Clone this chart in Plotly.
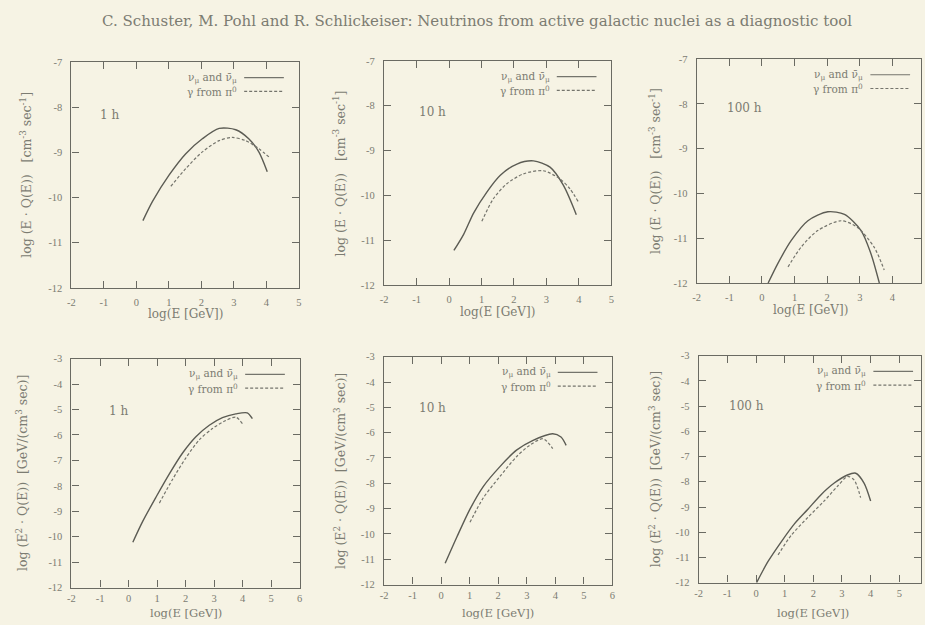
import plotly.graph_objects as go

# ---------------- data ----------------
# top row: log(E*Q(E)) ; bottom row: log(E^2*Q(E))
p1_nu_x = [0.20, 0.50, 1.01, 1.52, 2.03, 2.55, 3.06, 3.46, 3.77, 4.03]
p1_nu_y = [-10.51, -10.08, -9.50, -9.03, -8.70, -8.47, -8.50, -8.70, -8.99, -9.43]
p1_ga_x = [1.06, 1.52, 2.03, 2.55, 2.95, 3.36, 3.77, 4.08]
p1_ga_y = [-9.75, -9.36, -8.99, -8.74, -8.67, -8.74, -8.92, -9.10]

p2_nu_x = [0.15, 0.45, 0.76, 1.17, 1.58, 2.09, 2.60, 3.11, 3.52, 3.92]
p2_nu_y = [-11.23, -10.87, -10.39, -9.92, -9.55, -9.30, -9.23, -9.37, -9.77, -10.43]
p2_ga_x = [1.01, 1.37, 1.78, 2.29, 2.90, 3.41, 3.72, 3.98]
p2_ga_y = [-10.58, -10.07, -9.74, -9.52, -9.45, -9.63, -9.85, -10.14]

p3_nu_x = [0.19, 0.49, 0.90, 1.41, 2.02, 2.53, 3.04, 3.34, 3.60]
p3_nu_y = [-12.0, -11.56, -11.05, -10.61, -10.41, -10.47, -10.83, -11.34, -12.0]
p3_ga_x = [0.80, 1.20, 1.71, 2.43, 2.93, 3.44, 3.75]
p3_ga_y = [-11.64, -11.20, -10.83, -10.61, -10.76, -11.20, -11.71]

p4_nu_x = [0.15, 0.50, 0.97, 1.43, 1.90, 2.36, 2.83, 3.29, 3.76, 4.16, 4.34]
p4_nu_y = [-10.22, -9.39, -8.43, -7.53, -6.70, -6.07, -5.62, -5.32, -5.17, -5.13, -5.36]
p4_ga_x = [1.08, 1.55, 2.01, 2.48, 2.94, 3.41, 3.76, 3.99]
p4_ga_y = [-8.68, -7.73, -6.90, -6.19, -5.75, -5.43, -5.30, -5.55]

p5_nu_x = [0.14, 0.55, 1.01, 1.48, 2.06, 2.64, 3.22, 3.91, 4.20, 4.38]
p5_nu_y = [-11.16, -10.12, -9.02, -8.12, -7.34, -6.69, -6.30, -6.04, -6.17, -6.50]
p5_ga_x = [1.01, 1.48, 2.06, 2.64, 3.10, 3.57, 3.91]
p5_ga_y = [-9.54, -8.57, -7.73, -6.95, -6.50, -6.24, -6.63]

p6_nu_x = [0.02, 0.42, 0.88, 1.34, 1.81, 2.27, 2.73, 3.19, 3.48, 3.77, 4.00]
p6_nu_y = [-12.0, -11.16, -10.38, -9.67, -9.09, -8.51, -8.05, -7.73, -7.66, -8.05, -8.76]
p6_ga_x = [0.77, 1.23, 1.81, 2.38, 2.84, 3.19, 3.42, 3.65]
p6_ga_y = [-10.90, -10.12, -9.41, -8.76, -8.18, -7.79, -7.92, -8.63]

# tick values / labels
xt_top = [-2, -1, 0, 1, 2, 3, 4, 5]
xt_bot = [-2, -1, 0, 1, 2, 3, 4, 5, 6]
yt_top = [-12, -11, -10, -9, -8, -7]
yt_bot = [-12, -11, -10, -9, -8, -7, -6, -5, -4, -3]
def tick_labels(vals): return [str(v) for v in vals]   # plain hyphen minus, as typeset

panel_labels = ["1 h", "10 h", "100 h", "1 h", "10 h", "100 h"]
legend_nu = "ν<sub>μ</sub> and ν̄<sub>μ</sub>"
legend_ga = "γ from π<sup>0</sup>"
title_text = "C. Schuster, M. Pohl and R. Schlickeiser: Neutrinos from active galactic nuclei as a diagnostic tool"
xtitle = "log(E [GeV])"
ytitle_top = "log (E · Q(E))\u00a0\u00a0\u00a0[cm<sup>-3</sup> sec<sup>-1</sup>]"
ytitle_bot = "log (E<sup>2</sup> · Q(E))\u00a0\u00a0[GeV/(cm<sup>3</sup> sec)]"

# ---------------- layout helpers ----------------
W, H = 925, 625
def fx(x): return x / W
def fy(y): return 1 - y / H

BG = "#f6f3e4"
INK = "#6a6a62"
TXT = "#7c7c72"
FONT = "Liberation Serif"
WIDE = "DejaVu Serif"

panels = [
    dict(box=(68, 297, 58, 288), xr=(-2, 5), yr=(-12, -7), xt=xt_top, yt_=yt_top,
         nu=(p1_nu_x, p1_nu_y), ga=(p1_ga_x, p1_ga_y), lab=(106, 112), yt=ytitle_top, ytx=22),
    dict(box=(383, 612, 57, 285), xr=(-2, 5), yr=(-12, -7), xt=xt_top, yt_=yt_top,
         nu=(p2_nu_x, p2_nu_y), ga=(p2_ga_x, p2_ga_y), lab=(432, 109), yt=ytitle_top, ytx=338),
    dict(box=(698, 928, 55, 283), xr=(-2, 5), yr=(-12, -7), xt=xt_top, yt_=yt_top,
         nu=(p3_nu_x, p3_nu_y), ga=(p3_ga_x, p3_ga_y), lab=(746, 105), yt=ytitle_top, ytx=656),
    dict(box=(68, 298, 360, 593), xr=(-2, 6), yr=(-12, -3), xt=xt_bot, yt_=yt_bot,
         nu=(p4_nu_x, p4_nu_y), ga=(p4_ga_x, p4_ga_y), lab=(115, 413), yt=ytitle_bot, ytx=18),
    dict(box=(383, 613, 358, 590), xr=(-2, 6), yr=(-12, -3), xt=xt_bot, yt_=yt_bot,
         nu=(p5_nu_x, p5_nu_y), ga=(p5_ga_x, p5_ga_y), lab=(432, 410), yt=ytitle_bot, ytx=338),
    dict(box=(700, 931, 357, 588), xr=(-2, 6), yr=(-12, -3), xt=xt_bot, yt_=yt_bot,
         nu=(p6_nu_x, p6_nu_y), ga=(p6_ga_x, p6_ga_y), lab=(748, 408), yt=ytitle_bot, ytx=656),
]

fig = go.Figure()
annotations = []
shapes = []
layout_axes = {}

def ann(x, y, text, size, xanchor="center", angle=0, family=FONT):
    return dict(x=fx(x), y=fy(y), xref="paper", yref="paper", text=text, showarrow=False,
                xanchor=xanchor, yanchor="middle", textangle=angle,
                font=dict(family=family, size=size, color=TXT))

for i, p in enumerate(panels):
    n = i + 1
    top_row = i < 3
    xa = "x" if n == 1 else f"x{n}"
    ya = "y" if n == 1 else f"y{n}"
    L, R, T, B = p["box"]
    x0, x1 = p["xr"]
    Rc = min(R, W - 1)
    x1c = x0 + (x1 - x0) * (Rc - L) / (R - L)

    ax_common = dict(showline=True, linecolor=INK, linewidth=1.4, mirror="ticks",
                     ticks="inside", ticklen=7, tickwidth=1, tickcolor=INK,
                     showgrid=False, zeroline=False,
                     tickfont=dict(family=FONT, size=10.5, color=TXT))
    layout_axes["xaxis" if n == 1 else f"xaxis{n}"] = dict(
        ax_common, domain=[fx(L), fx(Rc)], range=[x0, x1c], anchor=ya,
        tickmode="array", tickvals=p["xt"], ticktext=tick_labels(p["xt"]),
        ticklabelstandoff=4 if top_row else 1)
    layout_axes["yaxis" if n == 1 else f"yaxis{n}"] = dict(
        ax_common, domain=[fy(B), fy(T)], range=list(p["yr"]), anchor=xa,
        tickmode="array", tickvals=p["yt_"], ticktext=tick_labels(p["yt_"]),
        ticklabelstandoff=6)

    fig.add_trace(go.Scatter(x=p["nu"][0], y=p["nu"][1], mode="lines", xaxis=xa, yaxis=ya,
                             line=dict(color="#5c5c54", width=1.4, shape="spline", smoothing=0.8),
                             showlegend=False, name="nu", hoverinfo="skip"))
    fig.add_trace(go.Scatter(x=p["ga"][0], y=p["ga"][1], mode="lines", xaxis=xa, yaxis=ya,
                             line=dict(color="#74746c", width=1.2, dash="3px,2px",
                                       shape="spline", smoothing=0.8),
                             showlegend=False, name="gamma", hoverinfo="skip"))

    annotations.append(ann(p["lab"][0], p["lab"][1], panel_labels[i], 12, family=WIDE))
    for k, (txt, dash) in enumerate([(legend_nu, "solid"), (legend_ga, "3px,2px")]):
        yy = T + 16 + 14 * k
        annotations.append(ann(R - 60, yy, txt, 10.5, xanchor="right", family=WIDE))
        shapes.append(dict(type="line", xref="paper", yref="paper",
                           x0=fx(R - 55), x1=fx(min(R - 15, W)), y0=fy(yy), y1=fy(yy),
                           line=dict(color="#74746c", width=1.2, dash=dash)))
    annotations.append(ann((L + R) / 2, B + 27 if top_row else 618.5, xtitle,
                           12 if top_row else 11.5, family=WIDE))
    annotations.append(ann(p["ytx"], (T + B) / 2, p["yt"], 12.5, angle=-90, family=WIDE))

annotations.append(ann(477, 16, title_text, 15, family=WIDE))

fig.update_layout(width=W, height=H, margin=dict(l=0, r=0, t=0, b=0),
                  paper_bgcolor=BG, plot_bgcolor=BG, showlegend=False,
                  annotations=annotations, shapes=shapes, **layout_axes)

fig.write_html("out.html", config={"displayModeBar": False},
               post_script="document.body.style.margin='0px';document.body.style.overflow='hidden';")
